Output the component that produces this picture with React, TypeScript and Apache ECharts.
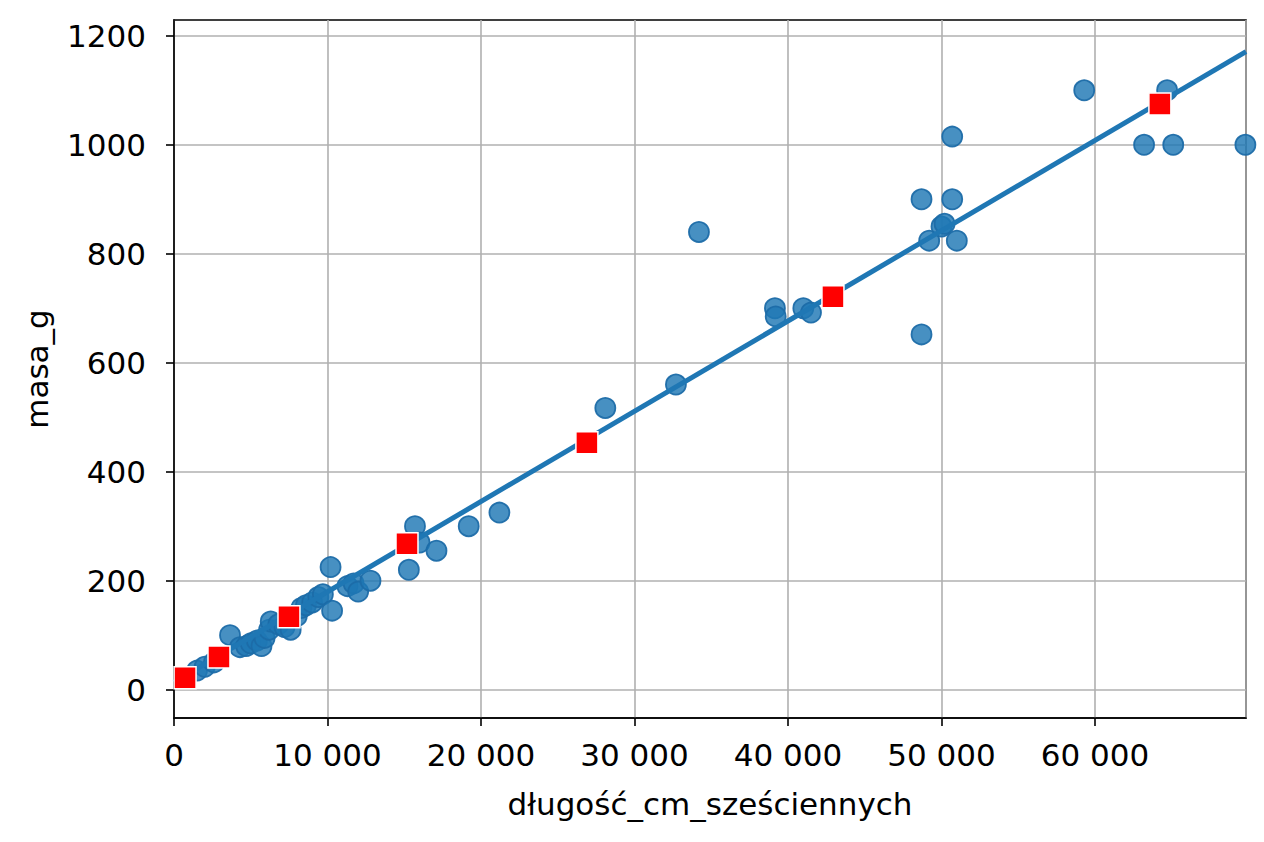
import React, { useEffect, useRef } from "react";
import * as echarts from "echarts";

// Observed points: [długość_cm_sześciennych, masa_g]
const observedX = [
  1500, 2000, 2600, 3650, 4300, 4700, 5000, 5400, 5700, 5900,
  6200, 6300, 6800, 7200, 7600, 8000, 8300, 8600, 9000, 9400,
  9700, 10200, 10300, 11300, 11700, 12000, 12800, 15300, 15700, 16000,
  17100, 19200, 21200, 28100, 32700, 34200, 39150, 39200, 41000, 41500,
  48700, 48700, 49200, 50000, 50200, 50700, 50700, 51000, 59300, 63200,
  64700, 65100, 69800,
];
const observedY = [
  35, 42, 50, 100, 78, 80, 85, 90, 80, 95,
  110, 125, 120, 115, 110, 135, 150, 155, 160, 170,
  175, 225, 145, 190, 195, 180, 200, 220, 300, 270,
  255, 300, 325, 517, 560, 840, 700, 685, 700, 692,
  900, 652, 824, 850, 855, 1015, 900, 824, 1100, 1000,
  1100, 1000, 1000,
];

// Predicted points (red squares)
const predictedX = [720, 2930, 7490, 15180, 26900, 42930, 64230];
const predictedY = [22, 60, 134, 268, 453, 721, 1075];

// Regression line end points
const lineX = [0, 69840];
const lineY = [14, 1171];

const yTicks = [0, 200, 400, 600, 800, 1000, 1200];
const X_MIN = 0;
const X_MAX = 69840;
const Y_MIN = -52;
const Y_MAX = 1229;

const fmtThousands = (v: number) =>
  String(Math.round(v)).replace(/\B(?=(\d{3})+(?!\d))/g, " ");

export default function App() {
  const ref = useRef<HTMLDivElement>(null);
  useEffect(() => {
    if (!ref.current) return;
    const chart = echarts.init(ref.current, undefined, { renderer: "svg" });
    const font = "DejaVu Sans";
    const scatterData = observedX.map((x, i) => [x, observedY[i]]);
    const predData = predictedX.map((x, i) => [x, predictedY[i]]);
    const lineData = lineX.map((x, i) => [x, lineY[i]]);
    chart.setOption({
      animation: false,
      backgroundColor: "#ffffff",
      grid: {
        left: 174,
        top: 20,
        right: 18,
        bottom: 124,
        show: true,
        borderColor: "#000000",
        borderWidth: 1.6,
        backgroundColor: "transparent",
      },
      xAxis: {
        type: "value",
        min: X_MIN,
        max: X_MAX,
        interval: 10000,
        name: "długość_cm_sześciennych",
        nameLocation: "middle",
        nameGap: 70,
        nameTextStyle: { fontFamily: font, fontSize: 31, color: "#000" },
        axisLine: { show: true, onZero: false, lineStyle: { color: "#000", width: 1.6 } },
        axisTick: { show: true, inside: false, length: 8, lineStyle: { color: "#000", width: 1.6 } },
        axisLabel: {
          fontFamily: font,
          fontSize: 31,
          color: "#000",
          margin: 21,
          showMaxLabel: false,
          formatter: (v: number) => (v % 10000 === 0 ? fmtThousands(v) : ""),
        },
        splitLine: { show: true, lineStyle: { color: "#b0b0b0", width: 1.6 } },
      },
      yAxis: {
        type: "value",
        min: Y_MIN,
        max: Y_MAX,
        name: "masa_g",
        nameLocation: "middle",
        nameGap: 122,
        nameTextStyle: { fontFamily: font, fontSize: 31, color: "#000" },
        axisLine: { show: true, onZero: false, lineStyle: { color: "#000", width: 1.6 } },
        axisTick: {
          show: true,
          inside: false,
          length: 8,
          customValues: yTicks,
          lineStyle: { color: "#000", width: 1.6 },
        },
        axisLabel: {
          fontFamily: font,
          fontSize: 31,
          color: "#000",
          margin: 28,
          customValues: yTicks,
          formatter: (v: number) => String(v),
        },
        splitLine: { show: true, lineStyle: { color: "#b0b0b0", width: 1.6 } },
      },
      series: [
        {
          type: "scatter",
          data: scatterData,
          symbol: "circle",
          symbolSize: 20,
          z: 2,
          itemStyle: {
            color: "rgba(31,119,180,0.82)",
            borderColor: "rgba(28,108,168,0.95)",
            borderWidth: 1.8,
            opacity: 1,
          },
        },
        {
          type: "line",
          data: lineData,
          showSymbol: false,
          symbol: "none",
          z: 3,
          lineStyle: { color: "#1f77b4", width: 5, opacity: 1 },
        },
        {
          type: "scatter",
          data: predData,
          symbol: "rect",
          symbolSize: 22,
          z: 4,
          itemStyle: { color: "#ff0000", borderColor: "#ffffff", borderWidth: 1.5, opacity: 1 },
        },
      ],
    });
    return () => chart.dispose();
  }, []);
  return (
    <div
      ref={ref}
      style={{ position: "absolute", left: 0, top: 0, width: 1264, height: 842 }}
    />
  );
}
